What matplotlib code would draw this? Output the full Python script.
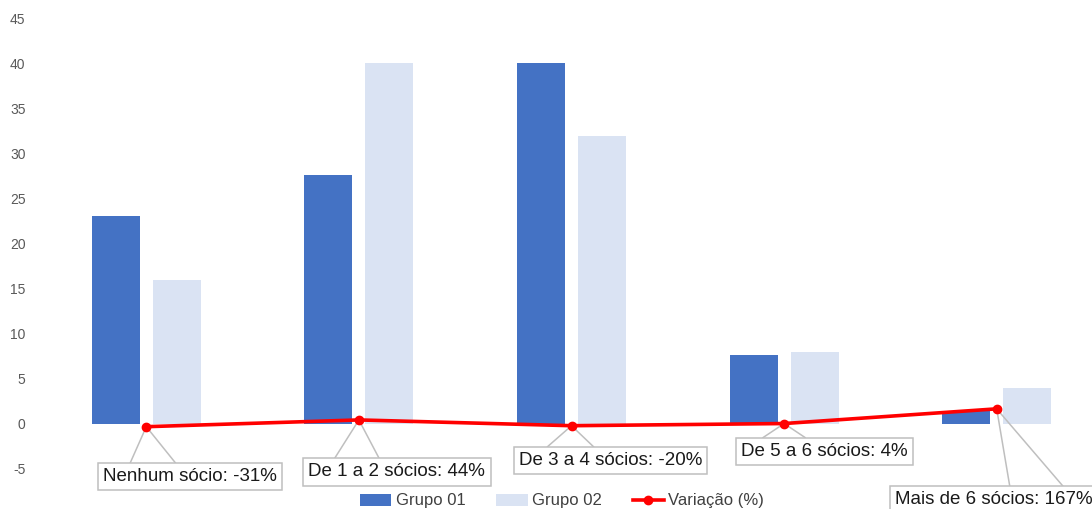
import matplotlib.pyplot as plt
import numpy as np

plt.rcParams["font.family"] = ["Liberation Sans", "DejaVu Sans"]

# chart data
categories = ["Nenhum sócio", "De 1 a 2 sócios", "De 3 a 4 sócios",
              "De 5 a 6 sócios", "Mais de 6 sócios"]
grupo_01 = [23.05, 27.6, 40.0, 7.65, 1.45]
grupo_02 = [15.95, 40.0, 31.9, 7.95, 4.0]
variacao_pct = [-31, 44, -20, 4, 167]
y_ticks = [-5, 0, 5, 10, 15, 20, 25, 30, 35, 40, 45]

# callout placement in pixels relative to the point (box centre), and the
# x offsets (from box centre) where the two leader lines meet the box top
callout_offsets = [(44, 50), (38, 52), (39, 35), (40, 28), (-3, 91)]
leader_ends = [(-60, -15), (-62, -18), (-63, -17), (-61, -19), (16, 69)]

BLUE = "#4472C4"
LIGHT = "#DAE3F3"
RED = "#FF0000"
GRAY = "#BFBFBF"

fig = plt.figure(figsize=(10.92, 5.09), dpi=100)
ax = fig.add_axes([40 / 1092, 40 / 509, 1063 / 1092, 451 / 509])

x = np.arange(len(categories))
width = 0.226
offset = 0.1435
b1 = ax.bar(x - offset, grupo_01, width, color=BLUE, label="Grupo 01", zorder=2)
b2 = ax.bar(x + offset, grupo_02, width, color=LIGHT, label="Grupo 02", zorder=2)

line_vals = [v / 100 for v in variacao_pct]
ln, = ax.plot(x, line_vals, color=RED, lw=2.6, marker="o", ms=6,
              label="Variação (%)", zorder=4, clip_on=False)

ax.set_xlim(-0.5, len(categories) - 0.5)
ax.set_ylim(-5, 45)
ax.set_yticks(y_ticks)
ax.set_yticklabels([str(t) for t in y_ticks], color="#595959", fontsize=10)
ax.set_xticks([])
ax.tick_params(axis="y", length=0, pad=10.5)
for s in ax.spines.values():
    s.set_visible(False)

# line from each data point down to its label box
box_half_h = 14


def shift(xd, yd, dx, dy):
    px, py = ax.transData.transform((xd, yd))
    return ax.transData.inverted().transform((px + dx, py - dy))


for i, (cat, pct) in enumerate(zip(categories, variacao_pct)):
    bx, by = callout_offsets[i]
    cx, cy = shift(x[i], line_vals[i], bx, by)
    for le in leader_ends[i]:
        ex, ey = shift(x[i], line_vals[i], bx + le, by - box_half_h)
        ax.plot([x[i], ex], [line_vals[i], ey], color=GRAY, lw=1.1,
                zorder=3, clip_on=False)
    ax.text(cx, cy, f"{cat}: {pct}%", ha="center", va="center",
            fontsize=13.5, color="#1a1a1a", zorder=5, clip_on=False,
            bbox=dict(boxstyle="square,pad=0.28", fc="white", ec=GRAY, lw=1.1))

fig.legend(handles=[b1, b2, ln], loc="center",
           bbox_to_anchor=(562 / 1092, 1 - 501 / 509),
           ncol=3, frameon=False, fontsize=12, handlelength=1.9,
           handleheight=0.7, columnspacing=1.85, handletextpad=0.25,
           labelcolor="#404040")

fig.savefig("out.png", dpi=100)
